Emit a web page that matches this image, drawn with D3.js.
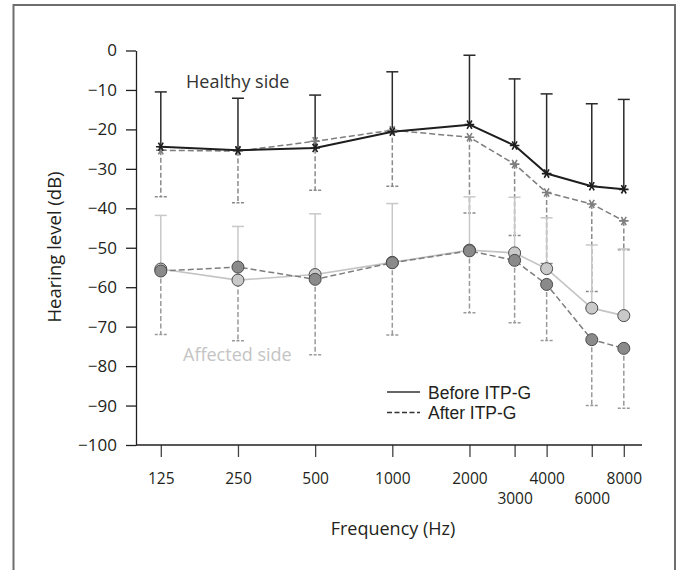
<!DOCTYPE html>
<html>
<head>
<meta charset="utf-8">
<script src="https://cdn.jsdelivr.net/npm/d3@7/dist/d3.min.js"></script>
<style>
  html, body { margin: 0; padding: 0; background: #fff; }
  svg { display: block; font-family: "Open Sans", "Noto Sans", sans-serif; }
</style>
</head>
<body>
<svg id="chart" width="676" height="570"></svg>
<script>
// ---- data ----
const freqs = [125, 250, 500, 1000, 2000, 3000, 4000, 6000, 8000];
const tickRow2 = [3000, 6000];
const yTicks = [0, -10, -20, -30, -40, -50, -60, -70, -80, -90, -100];

const healthyBefore      = [-24.4, -25.3, -24.7, -20.6, -18.8, -24.1, -31.2, -34.4, -35.2];
const healthyBeforeUpper = [-10.5, -12.1, -11.3, -5.4, -1.2, -7.2, -11.0, -13.5, -12.4];
const healthyAfter       = [-25.3, -25.5, -23.0, -20.2, -22.0, -28.8, -36.0, -38.9, -43.2];
const healthyAfterLower  = [-37.1, -38.6, -35.4, -34.4, -41.2, -46.9, -54.0, -61.1, -50.5];
const affectedBefore      = [-55.4, -58.2, -56.8, -53.7, -50.6, -51.3, -55.3, -65.3, -67.2];
const affectedBeforeUpper = [-41.8, -44.6, -41.4, -38.8, -37.1, -37.2, -42.4, -49.3, -50.3];
const affectedAfter       = [-55.9, -54.9, -58.0, -53.8, -50.8, -53.2, -59.3, -73.3, -75.5];
const affectedAfterLower  = [-72.0, -73.6, -77.1, -72.1, -66.5, -69.0, -73.5, -90.0, -90.7];

const legendItems = [
  { label: "Before ITP-G", dash: null },
  { label: "After ITP-G", dash: "5,2.5" }
];

// ---- layout ----
const svg = d3.select("#chart");
const plotLeft = 136, plotRight = 642, plotTop = 50.5, plotBottom = 445;
const textColor = "#231f20";

const x = d3.scaleLog().domain([125, 8000]).range([160.8, 623.8]);
const y = d3.scaleLinear().domain([-100, 0]).range([plotBottom, plotTop]);

// frame
svg.append("rect")
  .attr("x", 13.5).attr("y", 5).attr("width", 661.5).attr("height", 600)
  .attr("fill", "none").attr("stroke", "#6e6e6e").attr("stroke-width", 2);

// ---- axes ----
const yAxis = svg.append("g")
  .attr("transform", `translate(${plotLeft},0)`)
  .call(d3.axisLeft(y).tickValues(yTicks).tickSize(10).tickSizeOuter(0).tickPadding(9)
        .tickFormat(d3.format("d")));
yAxis.select(".domain").attr("stroke", textColor).attr("stroke-width", 1.3);
yAxis.selectAll(".tick line").attr("stroke", textColor).attr("stroke-width", 1.3);
yAxis.selectAll(".tick text").attr("font-size", 17).attr("fill", textColor)
  .attr("font-family", "Open Sans");

const xAxis = svg.append("g")
  .attr("transform", `translate(0,${plotBottom})`)
  .call(d3.axisBottom(x).tickValues(freqs).tickSize(12).tickSizeOuter(0)
        .tickFormat(d => String(d)));
xAxis.select(".domain").remove();
xAxis.append("line")
  .attr("x1", plotLeft).attr("x2", plotRight).attr("y1", 0).attr("y2", 0)
  .attr("stroke", textColor).attr("stroke-width", 1.3);
xAxis.selectAll(".tick line").attr("stroke", "#444").attr("stroke-width", 1.3);
xAxis.selectAll(".tick text")
  .attr("font-size", 15.5).attr("fill", textColor).attr("font-family", "Open Sans")
  .attr("dy", null)
  .attr("y", d => tickRow2.includes(d) ? 59 : 39);

// axis titles
svg.append("text")
  .attr("x", 393).attr("y", 535)
  .attr("text-anchor", "middle").attr("font-size", 18).attr("fill", textColor)
  .text("Frequency (Hz)");
svg.append("text")
  .attr("transform", "translate(61,247) rotate(-90)")
  .attr("text-anchor", "middle").attr("font-size", 18.5).attr("fill", textColor)
  .text("Hearing level (dB)");

// ---- helpers ----
const idx = d3.range(freqs.length);
const capW = 6;

function errorBars(vals, ends, color, dash, width) {
  const g = svg.append("g");
  g.selectAll("line.v").data(idx).join("line")
    .attr("x1", i => x(freqs[i])).attr("x2", i => x(freqs[i]))
    .attr("y1", i => y(vals[i])).attr("y2", i => y(ends[i]))
    .attr("stroke", color).attr("stroke-width", width)
    .attr("stroke-dasharray", dash);
  g.selectAll("line.c").data(idx).join("line")
    .attr("x1", i => x(freqs[i]) - capW).attr("x2", i => x(freqs[i]) + capW)
    .attr("y1", i => y(ends[i])).attr("y2", i => y(ends[i]))
    .attr("stroke", color).attr("stroke-width", width)
    .attr("stroke-dasharray", dash ? "3,1.5" : null);
}

function seriesLine(vals, color, dash, width) {
  const line = d3.line().x((d, i) => x(freqs[i])).y(d => y(d));
  svg.append("path").datum(vals)
    .attr("d", line).attr("fill", "none")
    .attr("stroke", color).attr("stroke-width", width)
    .attr("stroke-dasharray", dash).attr("stroke-linejoin", "round");
}

function asterisks(vals, color) {
  const sym = d3.symbol().type(d3.symbolAsterisk).size(64);
  svg.append("g").selectAll("path").data(idx).join("path")
    .attr("transform", i => `translate(${x(freqs[i])},${y(vals[i])}) rotate(90)`)
    .attr("d", sym).attr("fill", "none")
    .attr("stroke", color).attr("stroke-width", 1.6);
}

function circles(vals, fill) {
  svg.append("g").selectAll("circle").data(idx).join("circle")
    .attr("cx", i => x(freqs[i])).attr("cy", i => y(vals[i]))
    .attr("r", 6).attr("fill", fill).attr("stroke", "#4a4a4a").attr("stroke-width", 1);
}

// ---- error bars ----
errorBars(healthyAfter, healthyAfterLower, "#8a8a8a", "5,2.5", 1.5);
errorBars(affectedAfter, affectedAfterLower, "#9a9a9a", "5,2.5", 1.5);
errorBars(affectedBefore, affectedBeforeUpper, "#c8c8c8", null, 1.5);
errorBars(healthyBefore, healthyBeforeUpper, "#2a2a2a", null, 1.5);

// ---- lines ----
seriesLine(affectedBefore, "#c4c4c4", null, 1.6);
seriesLine(affectedAfter, "#7e7e7e", "6,3", 1.5);
seriesLine(healthyAfter, "#7e7e7e", "6,3", 1.5);
seriesLine(healthyBefore, "#1e1e1e", null, 2);

// ---- markers ----
circles(affectedBefore, "#c9c9c9");
circles(affectedAfter, "#8a8a8a");
asterisks(healthyAfter, "#7e7e7e");
asterisks(healthyBefore, "#1e1e1e");

// ---- annotations ----
svg.append("text").attr("x", 186).attr("y", 88)
  .attr("font-size", 18).attr("fill", "#333").text("Healthy side");
svg.append("text").attr("x", 183).attr("y", 361)
  .attr("font-size", 18).attr("fill", "#c4c4c4").text("Affected side");

// ---- legend ----
const lg = svg.append("g").attr("transform", "translate(387,392)");
const rows = lg.selectAll("g").data(legendItems).join("g")
  .attr("transform", (d, i) => `translate(0,${i * 20.5})`);
rows.append("line").attr("x1", 0).attr("x2", 33).attr("y1", 0).attr("y2", 0)
  .attr("stroke", "#333").attr("stroke-width", 1.4)
  .attr("stroke-dasharray", d => d.dash);
rows.append("text").attr("x", 41).attr("y", 6.5)
  .attr("font-family", "'Liberation Sans', Arial, sans-serif")
  .attr("font-size", 17.5).attr("fill", textColor).text(d => d.label);
</script>
</body>
</html>
